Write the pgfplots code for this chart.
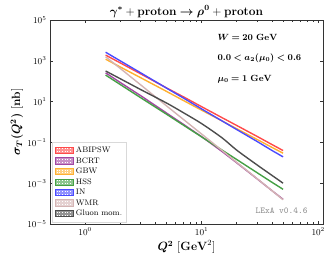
\documentclass[border=0pt]{standalone}
\usepackage{pgfplots}
\pgfplotsset{compat=1.18}
\usepackage{amsmath,bm}
\definecolor{cRed}{HTML}{FF4A4A}
\definecolor{cPur}{HTML}{A347A3}
\definecolor{cOra}{HTML}{FFB030}
\definecolor{cGre}{HTML}{45A045}
\definecolor{cBlu}{HTML}{4A4AFF}
\definecolor{cWmr}{HTML}{D4B4B4}
\definecolor{cGra}{HTML}{4D4D4D}
\definecolor{axc}{HTML}{333333}
\newcommand\legpatch[1]{%
  \draw[draw=#1, fill=#1!60, line width=0.7pt] (0cm,-0.1cm) rectangle (0.65cm,0.12cm);
  \draw[white, dotted, line width=0.7pt] (0.05cm,0.06cm) -- (0.6cm,0.06cm);
  \draw[white, dotted, line width=0.7pt] (0.05cm,-0.04cm) -- (0.6cm,-0.04cm);}
\begin{document}
\begin{tikzpicture}
\path[use as bounding box] (-50bp,-36bp) rectangle (279bp,224bp);
\begin{axis}[
  name=ax,
  at={(0,0)}, anchor=south west,
  scale only axis, width=273bp, height=204bp,
  xmode=log, ymode=log,
  xmin=0.5, xmax=110, ymin=1e-5, ymax=1e5,
  ytick={1e-5,1e-3,1e-1,1e1,1e3,1e5},
  yminorticks=false,
  xtick={1,10,100},
  tick align=inside,
  major tick length=3bp, minor tick length=1.8bp,
  tick style={color=axc, line width=0.6pt},
  axis line style={color=axc, line width=1pt},
  tick label style={font=\small},
  legend style={at={(0.008,0.01)}, anchor=south west, font=\footnotesize,
    draw=black!15, fill=white, inner sep=2.5pt, row sep=-0.5pt},
  legend cell align=left,
  every axis plot/.append style={line width=1.4pt},
]
\addplot[color=cRed, legend image code/.code={\legpatch{cRed}}] coordinates {(1.5,1905) (2,794) (3,229) (5,46.8) (7,17.0) (10,5.62) (15,1.62) (20,0.676) (30,0.195) (40,0.0794) (50,0.0398)};
\addlegendentry{ABIPSW}
\addplot[color=cPur, legend image code/.code={\legpatch{cPur}}] coordinates {(1.5,257) (2,87.1) (3,19.5) (5,2.75) (7,0.759) (10,0.191) (15,0.0355) (20,0.0100) (30,1.62e-3) (40,4.37e-4) (50,1.62e-4)};
\addlegendentry{BCRT}
\addplot[color=cOra, legend image code/.code={\legpatch{cOra}}] coordinates {(1.5,1202) (2,501) (3,148) (5,31.6) (7,11.2) (10,3.80) (15,1.12) (20,0.468) (30,0.138) (40,0.0575) (50,0.0295)};
\addlegendentry{GBW}
\addplot[color=cGre, legend image code/.code={\legpatch{cGre}}] coordinates {(1.5,200) (2,69.2) (3,15.5) (5,2.40) (7,0.692) (10,0.186) (15,0.0417) (20,0.0145) (30,3.24e-3) (40,1.12e-3) (50,5.01e-4)};
\addlegendentry{HSS}
\addplot[color=cBlu, legend image code/.code={\legpatch{cBlu}}] coordinates {(1.5,2630) (2,1000) (3,257) (5,45.7) (7,14.8) (10,4.37) (15,1.12) (20,0.427) (30,0.110) (40,0.0407) (50,0.0195)};
\addlegendentry{IN}
\addplot[color=cWmr, legend image code/.code={\legpatch{cWmr}}] coordinates {(1.5,1585) (2,427) (3,66.1) (5,6.17) (7,1.32) (10,0.257) (15,0.0398) (20,0.0105) (30,1.66e-3) (40,4.37e-4) (50,1.55e-4)};
\addlegendentry{WMR}
\addplot[color=cGra, smooth, tension=0.5, legend image code/.code={\legpatch{cGra}}] coordinates {(1.5,316) (2,133) (3,38.9) (5,8.51) (7,2.82) (10,0.832) (15,0.166) (20,0.0417) (30,7.76e-3) (40,2.45e-3) (50,1.0e-3)};
\addlegendentry{Gluon mom.}
\end{axis}
\node[anchor=south, font=\large] at (136.5bp,203bp) {$\bm{\gamma^{*}} + \mathbf{proton} \bm{\rightarrow} \bm{\rho^{0}} + \mathbf{proton}$};
\node[anchor=north, font=\large] at (136.5bp,-13bp) {$\bm{Q^2}\ [\mathbf{GeV}^2]$};
\node[rotate=90, anchor=center, font=\large] at (-33bp,102bp) {$\bm{\sigma_T(Q^2)}\ [\mathbf{nb}]$};
\node[anchor=west, font=\small] at (164bp,187bp) {$\bm{W = 20}\ \mathbf{GeV}$};
\node[anchor=west, font=\small] at (164bp,166bp) {$\bm{0.0 < a_2(\mu_0) < 0.6}$};
\node[anchor=west, font=\small] at (164bp,145bp) {$\bm{\mu_0 = 1}\ \mathbf{GeV}$};
\node[anchor=east, font=\small\ttfamily, text=black!45] at (261bp,13bp) {LExA v0.4.6};
\end{tikzpicture}
\end{document}
